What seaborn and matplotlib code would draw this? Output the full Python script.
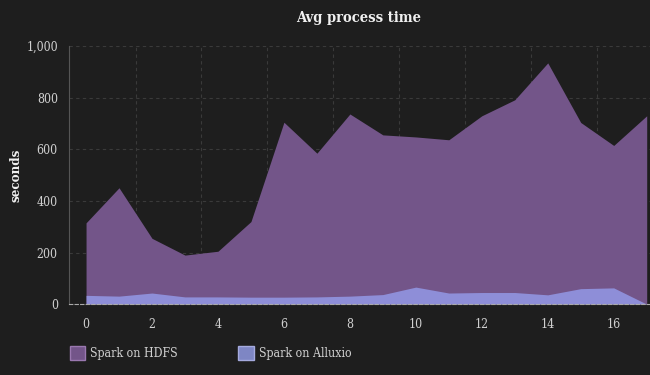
import numpy as np
import pandas as pd
import matplotlib
matplotlib.use("Agg")
import matplotlib.pyplot as plt
import seaborn as sns
from matplotlib.patches import Patch
from matplotlib.ticker import FuncFormatter

# Du lieu doc tu hinh
runs = list(range(18))
hdfs = [315, 451, 255, 190, 205, 320, 705, 585, 737, 656, 648, 637, 730, 792, 935, 704, 615, 730]
alluxio = [34, 31, 43, 28, 28, 27, 27, 28, 31, 37, 66, 43, 45, 45, 36, 60, 63, 0]
series_names = ["Spark on HDFS", "Spark on Alluxio"]

bg = "#1e1e1e"
fg = "#d0d0d0"
hdfs_color = "#735589"
alluxio_color = "#8e8ed8"

sns.set_style("dark", {"axes.facecolor": bg, "figure.facecolor": bg})
plt.rcParams["font.family"] = ["DejaVu Serif"]
plt.rcParams["font.stretch"] = "condensed"

df = pd.DataFrame({"run": runs, series_names[0]: hdfs, series_names[1]: alluxio})

fig = plt.figure(figsize=(6.5, 3.75), dpi=100)
ax = fig.add_axes([0.106, 0.189, 0.894, 0.688])

# Ve vung
for name, color in zip(series_names, [hdfs_color, alluxio_color]):
    sns.lineplot(data=df, x="run", y=name, ax=ax, color=color, linewidth=0)
    ax.fill_between(df["run"], 0, df[name], color=color, linewidth=0, alpha=1)

ax.set_xlim(-0.52, 17.1)
ax.set_ylim(0, 1000)
ax.set_xticks(range(0, 17, 2))
ax.set_xticks(np.arange(1.5, 17, 2), minor=True)
ax.set_yticks(range(0, 1001, 200))
ax.yaxis.set_major_formatter(FuncFormatter(lambda v, p: f"{int(v):,}"))

ax.grid(False)
ax.grid(True, axis="y", which="major", color="#3a3a3a", linestyle=(0, (3, 3)), linewidth=0.8)
ax.grid(True, axis="x", which="minor", color="#3a3a3a", linestyle=(0, (3, 3)), linewidth=0.8)
ax.set_axisbelow(True)
for s in ["top", "right"]:
    ax.spines[s].set_visible(False)
ax.spines["left"].set_color("#555555")
ax.spines["bottom"].set_color("#aaaaaa")
ax.spines["bottom"].set_linestyle((0, (3, 2)))
ax.spines["bottom"].set_zorder(5)
ax.tick_params(axis="both", colors="#666666", labelcolor=fg, labelsize=8.8,
               length=4, width=0.8, pad=6)
ax.tick_params(axis="x", which="minor", length=0)
ax.tick_params(axis="y", pad=4)

ax.set_xlabel("")
ax.set_ylabel("seconds", color="#f0f0f0", fontsize=9.5, fontweight="bold")
ax.yaxis.set_label_coords(-0.08, 0.5)
fig.text(0.551, 0.953, "Avg process time", color="#f0f0f0", fontsize=10.5,
         fontweight="bold", ha="center", va="center")

# Chu thich
handles = [Patch(facecolor=hdfs_color, edgecolor="#9a78b0", label=series_names[0]),
           Patch(facecolor="#7e86c4", edgecolor="#a5aade", label=series_names[1])]
leg = fig.legend(handles=handles, loc="center left", bbox_to_anchor=(0.09, 0.058),
                 ncol=2, frameon=False, fontsize=8.8, labelcolor=fg,
                 handlelength=1.3, handleheight=1.3, handletextpad=0.4,
                 columnspacing=4.9)

fig.savefig("out.png", dpi=100, facecolor=bg)
